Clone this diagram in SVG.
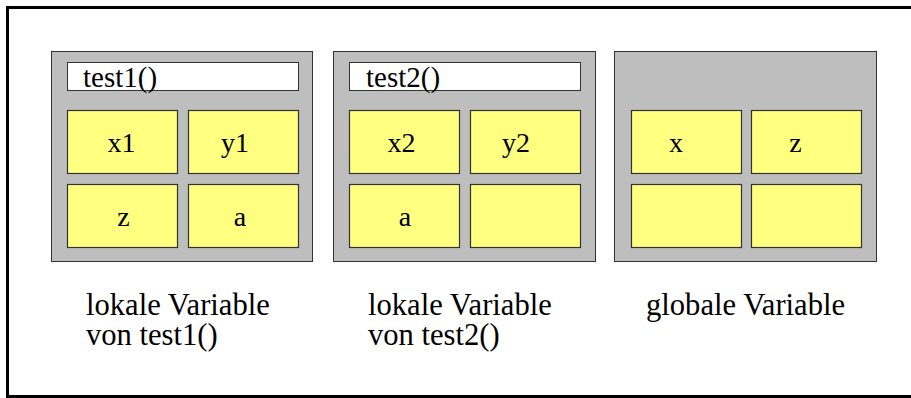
<svg xmlns="http://www.w3.org/2000/svg" width="911" height="398" viewBox="0 0 911 398">
<style>
.frame{fill:#ffffff;stroke:#000000;stroke-width:3}
.panel{fill:#bebebe;stroke:#333333;stroke-width:1}
.title{fill:#ffffff;stroke:#333333;stroke-width:1}
.cell{fill:#ffff80;stroke:#333333;stroke-width:1.2}
text{font-family:"Liberation Serif","Times New Roman",serif;fill:#000000}
.ct{font-size:28px;text-anchor:middle}
.tt{font-size:29px}
.lb{font-size:30.6px}
</style>
<rect class="frame" x="7.5" y="7.5" width="920" height="389"/>
<g id="panel1">
<rect class="panel" x="51.5" y="51.5" width="261" height="210"/>
<rect class="title" x="67.5" y="62.5" width="231" height="28"/>
<text class="tt" x="83" y="87">test1()</text>
<rect class="cell" x="67.5" y="110.5" width="110" height="63"/>
<rect class="cell" x="188.5" y="110.5" width="110" height="63"/>
<rect class="cell" x="67.5" y="184.5" width="110" height="63"/>
<rect class="cell" x="188.5" y="184.5" width="110" height="63"/>
<text class="ct" x="121.5" y="152">x1</text>
<text class="ct" x="235" y="152">y1</text>
<text class="ct" x="123.5" y="226">z</text>
<text class="ct" x="240" y="226">a</text>
</g>
<g id="panel2">
<rect class="panel" x="333.5" y="51.5" width="262" height="210"/>
<rect class="title" x="349.5" y="62.5" width="231" height="28"/>
<text class="tt" x="366" y="87">test2()</text>
<rect class="cell" x="349.5" y="110.5" width="110" height="63"/>
<rect class="cell" x="470.5" y="110.5" width="110" height="63"/>
<rect class="cell" x="349.5" y="184.5" width="110" height="63"/>
<rect class="cell" x="470.5" y="184.5" width="110" height="63"/>
<text class="ct" x="401.5" y="152">x2</text>
<text class="ct" x="516" y="152">y2</text>
<text class="ct" x="405" y="226">a</text>
</g>
<g id="panel3">
<rect class="panel" x="614.5" y="51.5" width="262" height="210"/>
<rect class="cell" x="631.5" y="110.5" width="110" height="63"/>
<rect class="cell" x="751.5" y="110.5" width="110" height="63"/>
<rect class="cell" x="631.5" y="184.5" width="110" height="63"/>
<rect class="cell" x="751.5" y="184.5" width="110" height="63"/>
<text class="ct" x="676" y="152">x</text>
<text class="ct" x="795.5" y="152">z</text>
</g>
<g id="labels">
<text class="lb" x="86" y="315">lokale Variable</text>
<text class="lb" x="86" y="345">von test1()</text>
<text class="lb" x="368" y="315">lokale Variable</text>
<text class="lb" x="368" y="345">von test2()</text>
<text class="lb" x="646" y="315">globale Variable</text>
</g>
<g id="connectors"/>
</svg>
